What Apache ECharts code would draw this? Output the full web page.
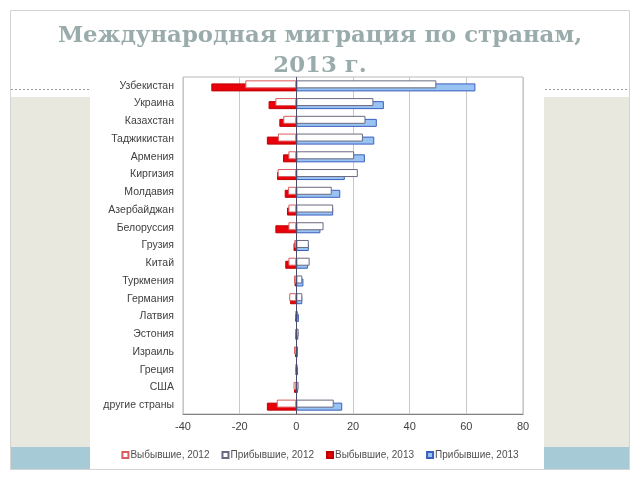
<!DOCTYPE html>
<html><head><meta charset="utf-8">
<script src="https://cdn.jsdelivr.net/npm/echarts@6/dist/echarts.min.js"></script>
<style>html,body{margin:0;padding:0;background:#fff}#c{width:640px;height:480px}</style>
</head><body><div id="c"></div>
<script>
var categories = ['Узбекистан','Украина','Казахстан','Таджикистан','Армения','Киргизия','Молдавия','Азербайджан','Белоруссия','Грузия','Китай','Туркмения','Германия','Латвия','Эстония','Израиль','Греция','США','другие страны'];
var out2012 = [-18, -7.4, -4.6, -6.5, -2.8, -6.6, -2.9, -2.8, -2.8, -0.7, -2.8, -0.8, -2.5, -0.2, -0.3, -0.8, -0.2, -1.0, -6.9];
var in2012  = [49.4, 27.2, 24.4, 23.5, 20.4, 21.7, 12.5, 13.0, 9.6, 4.4, 4.7, 2.1, 2.1, 0.5, 0.8, 0.6, 0.4, 0.8, 13.2];
var out2013 = [-30, -9.8, -6.0, -10.4, -4.7, -6.8, -4.1, -3.3, -7.4, -1.0, -3.9, -0.6, -2.2, -0.3, -0.2, -0.4, -0.1, -0.8, -10.4];
var in2013  = [63.2, 30.9, 28.4, 27.5, 24.2, 17.1, 15.5, 13.0, 8.5, 4.4, 4.1, 2.5, 2.1, 0.9, 0.7, 0.5, 0.6, 0.6, 16.2];
var seriesNames = ['Выбывшие, 2012','Прибывшие, 2012','Выбывшие, 2013','Прибывшие, 2013'];
var xTicks = {min: -40, max: 80, interval: 20};

var chart = echarts.init(document.getElementById('c'), null, {renderer: 'canvas'});
var bg = [
  {type:'rect', shape:{x:10.5,y:10.5,width:619,height:459}, style:{fill:'#fff',stroke:'#d4d4d4',lineWidth:1}, z:-10, silent:true},
  {type:'rect', shape:{x:11,y:97,width:79,height:350}, style:{fill:'#e9e8df'}, z:-9, silent:true},
  {type:'rect', shape:{x:544,y:97,width:85,height:350}, style:{fill:'#e9e8df'}, z:-9, silent:true},
  {type:'rect', shape:{x:11,y:447,width:79,height:22}, style:{fill:'#a6cbd6'}, z:-9, silent:true},
  {type:'rect', shape:{x:544,y:447,width:85,height:22}, style:{fill:'#a6cbd6'}, z:-9, silent:true},
  {type:'line', shape:{x1:11,y1:89.5,x2:90,y2:89.5}, style:{stroke:'#9a9a9a',lineWidth:1,lineDash:[2,2]}, z:-9, silent:true},
  {type:'line', shape:{x1:545,y1:89.5,x2:629,y2:89.5}, style:{stroke:'#9a9a9a',lineWidth:1,lineDash:[2,2]}, z:-9, silent:true}
];
function mk(name, data, stack, fill, border, z, extra){
  var s = {name:name, type:'bar', stack:stack, data:data, barWidth:8, barGap:'-62%', z:z,
    itemStyle:{color:fill, borderColor:border, borderWidth:1}, animation:false};
  if (extra) for (var k in extra) s[k]=extra[k];
  return s;
}
chart.setOption({
  animation:false,
  backgroundColor:'transparent',
  graphic: bg,
  title:{text:'Международная миграция по странам,\n2013 г.', left:'center', top:16,
    textStyle:{fontFamily:'DejaVu Serif', fontWeight:'bold', fontSize:22.8, color:'#9aabab', lineHeight:30}},
  legend:{data:seriesNames, bottom:15, left:'center', itemWidth:6, itemHeight:6, itemGap:12, icon:'rect',
    textStyle:{fontFamily:'Liberation Sans', fontSize:10, color:'#505050', padding:[0,0,0,-3]}},
  grid:{left:183, right:117, top:77, bottom:66, show:true, borderColor:'#b8b8b8', borderWidth:1},
  xAxis:{type:'value', min:xTicks.min, max:xTicks.max, interval:xTicks.interval,
    axisLine:{show:true, lineStyle:{color:'#808080'}}, axisTick:{show:false},
    axisLabel:{fontFamily:'Liberation Sans', fontSize:11, color:'#404040', margin:7},
    splitLine:{show:true, lineStyle:{color:'#c8c8c8'}}},
  yAxis:{type:'category', data:categories, inverse:true,
    axisLine:{show:false}, axisTick:{show:false},
    axisLabel:{fontFamily:'Liberation Sans', fontSize:10.5, color:'#404040', margin:9}},
  series:[
    mk(seriesNames[0], out2012, 'a', '#ffffff', '#d85c5c', 4),
    mk(seriesNames[1], in2012, 'a', '#ffffff', '#6a6a80', 4),
    mk(seriesNames[2], out2013, 'b', '#e8000b', '#c00000', 3),
    mk(seriesNames[3], in2013, 'b', '#99c3f2', '#3b5fbf', 3, {
      markLine:{silent:true, symbol:'none', label:{show:false}, z:6,
        lineStyle:{color:'#4a4a6a', width:1, type:'solid'}, data:[{xAxis:0}]}})
  ]
});
</script></body></html>
